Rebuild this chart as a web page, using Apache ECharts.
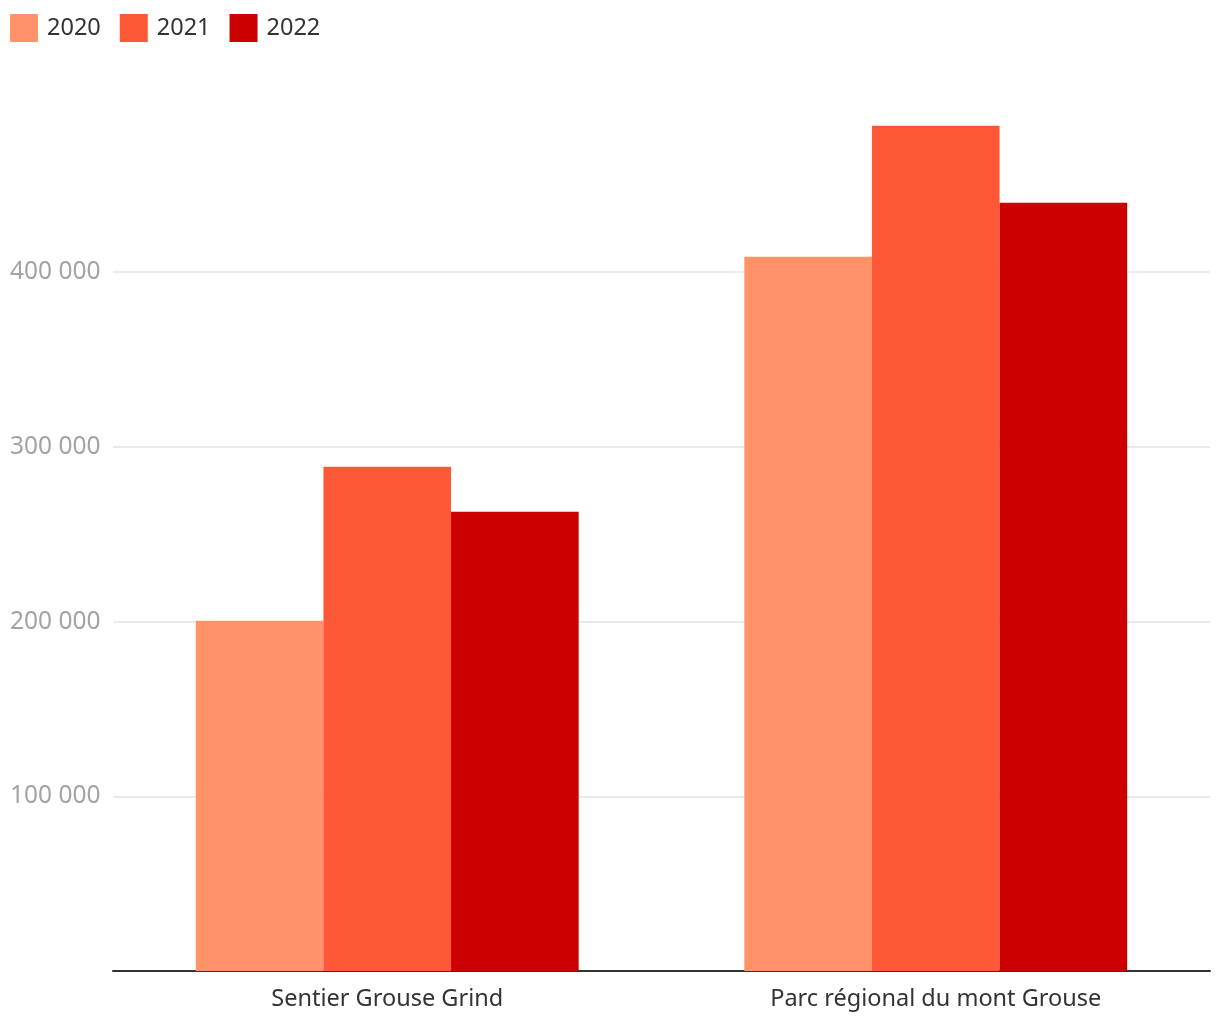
<!DOCTYPE html>
<html>
<head>
<meta charset="utf-8">
<script src="https://cdn.jsdelivr.net/npm/echarts@6/dist/echarts.min.js"></script>
<style>
html,body{margin:0;padding:0;background:#fff;}
#chart{width:1220px;height:1020px;}
</style>
</head>
<body>
<div id="chart"></div>
<script>
var categories = ['Sentier Grouse Grind', 'Parc régional du mont Grouse'];
var seriesNames = ['2020', '2021', '2022'];
var values2020 = [200500, 408900];
var values2021 = [288600, 483900];
var values2022 = [262900, 439800];
var yTicks = [0, 100000, 200000, 300000, 400000, 500000];
var colors = ['#ff9268', '#ff5837', '#cc0000'];

function fmt(v) {
  return String(v).replace(/\B(?=(\d{3})+(?!\d))/g, ' ');
}

var chart = echarts.init(document.getElementById('chart'), null, {renderer: 'canvas'});
var allValues = [values2020, values2021, values2022];
chart.setOption({
  animation: false,
  color: colors,
  textStyle: {fontFamily: 'Noto Sans'},
  legend: {
    left: 10,
    top: 14,
    padding: 0,
    icon: 'rect',
    itemWidth: 28,
    itemHeight: 28,
    itemGap: 19,
    textStyle: {fontSize: 23.5, color: '#333', fontFamily: 'Noto Sans', padding: [4, 0, 0, 4]},
    data: seriesNames
  },
  grid: {left: 113, right: 10, top: 97.5, bottom: 49, containLabel: false},
  xAxis: {
    type: 'category',
    data: categories,
    axisLine: {show: true, lineStyle: {color: '#333', width: 2}},
    axisTick: {show: false},
    axisLabel: {fontSize: 23.5, color: '#333', margin: 16, fontFamily: 'Noto Sans'}
  },
  yAxis: {
    type: 'value',
    min: yTicks[0],
    max: yTicks[yTicks.length - 1],
    interval: yTicks[1] - yTicks[0],
    axisLine: {show: false},
    axisTick: {show: false},
    splitLine: {show: true, showMinLine: false, showMaxLine: false, lineStyle: {color: '#e3e3e3', width: 1.5}},
    axisLabel: {
      showMinLabel: false,
      showMaxLabel: false,
      align: 'left',
      margin: 103,
      fontSize: 24.5,
      color: '#a3a3a3',
      fontFamily: 'Noto Sans',
      padding: [5, 0, 0, 0],
      formatter: function (v) { return fmt(v); }
    }
  },
  series: seriesNames.map(function (name, i) {
    return {
      name: name,
      type: 'bar',
      data: allValues[i],
      barGap: '0%',
      barCategoryGap: '30.2%'
    };
  })
});
</script>
</body>
</html>
